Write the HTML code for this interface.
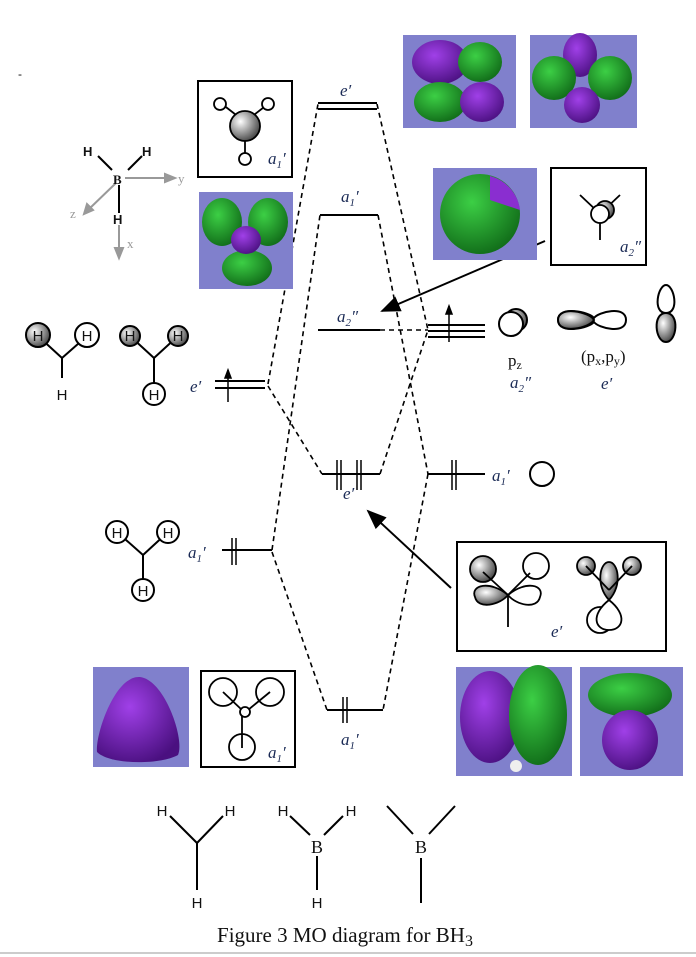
<!DOCTYPE html>
<html><head><meta charset="utf-8"><style>
html,body{margin:0;padding:0;background:#fff;}
svg{display:block;}
.it{font-family:"Liberation Serif",serif;font-style:italic;fill:#1a2a55;}
.sf{font-family:"Liberation Serif",serif;fill:#111;}
.ss{font-family:"Liberation Sans",sans-serif;fill:#111;}
</style></head><body>
<svg width="696" height="957" viewBox="0 0 696 957" xmlns="http://www.w3.org/2000/svg">
<defs>
<radialGradient id="sh" cx="0.35" cy="0.35" r="0.7"><stop offset="0" stop-color="#fff"/><stop offset="1" stop-color="#444"/></radialGradient>
<radialGradient id="gr" cx="0.4" cy="0.35" r="0.7"><stop offset="0" stop-color="#3ccf45"/><stop offset="1" stop-color="#106a18"/></radialGradient>
<radialGradient id="pu" cx="0.4" cy="0.35" r="0.7"><stop offset="0" stop-color="#a040e8"/><stop offset="1" stop-color="#4a1080"/></radialGradient>
<marker id="ah" markerWidth="10" markerHeight="8" refX="9" refY="4" orient="auto"><path d="M0,0 L10,4 L0,8 z" fill="#000"/></marker>
</defs>
<text x="18" y="78" class="ss" font-size="12">-</text>

<g stroke="#000" stroke-width="1.6" stroke-dasharray="5,4" fill="none">
<path d="M268,384 L318,104"/>
<path d="M268,386 L322,474"/>
<path d="M272,550 L320,215"/>
<path d="M272,552 L327,710"/>
<path d="M377,104 L428,330"/>
<path d="M378,215 L428,474"/>
<path d="M380,330 L428,330"/>
<path d="M380,474 L428,330"/>
<path d="M428,474 L383,710"/>
</g>
<g stroke="#000" stroke-width="2">
<line x1="318" y1="103" x2="377" y2="103"/><line x1="318" y1="109" x2="377" y2="109"/>
<line x1="320" y1="215" x2="378" y2="215"/>
<line x1="318" y1="330" x2="380" y2="330"/>
<line x1="322" y1="474" x2="380" y2="474"/>
<line x1="327" y1="710" x2="383" y2="710"/>
<line x1="215" y1="381" x2="265" y2="381"/><line x1="215" y1="388" x2="265" y2="388"/>
<line x1="222" y1="550" x2="272" y2="550"/>
<line x1="428" y1="325" x2="485" y2="325"/><line x1="428" y1="331" x2="485" y2="331"/><line x1="428" y1="337" x2="485" y2="337"/>
<line x1="428" y1="474" x2="485" y2="474"/>
</g>
<g stroke="#000" stroke-width="1.5" fill="#000">
<line x1="228" y1="370" x2="228" y2="402"/><path d="M228,370 l-3,8 h6z"/>
<line x1="232" y1="538" x2="232" y2="565"/><line x1="236" y1="538" x2="236" y2="565"/>
<line x1="449" y1="306" x2="449" y2="342"/><path d="M449,306 l-3,8 h6z"/>
<line x1="452" y1="460" x2="452" y2="490"/><line x1="456" y1="460" x2="456" y2="490"/>
<line x1="337" y1="460" x2="337" y2="490"/><line x1="341" y1="460" x2="341" y2="490"/>
<line x1="357" y1="460" x2="357" y2="490"/><line x1="361" y1="460" x2="361" y2="490"/>
<line x1="343" y1="697" x2="343" y2="723"/><line x1="347" y1="697" x2="347" y2="723"/>
</g>
<g class="it" font-size="17">
<text x="340" y="96">e′</text>
<text x="341" y="202">a<tspan font-size="11" dy="4">1</tspan><tspan dy="-4">′</tspan></text>
<text x="337" y="322">a<tspan font-size="11" dy="4">2</tspan><tspan dy="-4">″</tspan></text>
<text x="343" y="499">e′</text>
<text x="341" y="745">a<tspan font-size="11" dy="4">1</tspan><tspan dy="-4">′</tspan></text>
<text x="190" y="392">e′</text>
<text x="188" y="558">a<tspan font-size="11" dy="4">1</tspan><tspan dy="-4">′</tspan></text>
<text x="492" y="481">a<tspan font-size="11" dy="4">1</tspan><tspan dy="-4">′</tspan></text>
<text x="510" y="388">a<tspan font-size="11" dy="4">2</tspan><tspan dy="-4">″</tspan></text>
<text x="601" y="389">e′</text>
</g>
<text x="508" y="366" class="sf" font-size="17">p<tspan font-size="12" dy="3">z</tspan></text>
<text x="581" y="362" class="sf" font-size="17">(p<tspan font-size="12" dy="3">x</tspan><tspan dy="-3">,p</tspan><tspan font-size="12" dy="3">y</tspan><tspan dy="-3">)</tspan></text>

<line x1="545" y1="241" x2="382" y2="311" stroke="#000" stroke-width="2" marker-end="url(#ah)"/>
<line x1="451" y1="588" x2="368" y2="511" stroke="#000" stroke-width="2" marker-end="url(#ah)"/>

<circle cx="516" cy="320" r="11" fill="url(#sh)" stroke="#000" stroke-width="2"/>
<circle cx="511" cy="324" r="12" fill="#fff" stroke="#000" stroke-width="2"/>
<path d="M558,320 C558,305 590,312 594,318 C598,312 626,305 626,320 C626,335 598,328 594,322 C590,328 558,335 558,320z" fill="#fff" stroke="#000" stroke-width="2"/>
<path d="M558,320 C558,305 590,312 594,320 C590,328 558,335 558,320z" fill="url(#sh)" stroke="#000" stroke-width="2"/>
<path d="M666,313 C652,313 658,285 666,285 C674,285 680,313 666,313z" fill="#fff" stroke="#000" stroke-width="2"/>
<path d="M666,313 C652,313 655,342 666,342 C677,342 680,313 666,313z" fill="url(#sh)" stroke="#000" stroke-width="2"/>
<circle cx="542" cy="474" r="12" fill="#fff" stroke="#000" stroke-width="2"/>

<g fill="none" stroke="#000" stroke-width="2">
<rect x="198" y="81" width="94" height="96"/>
<rect x="551" y="168" width="95" height="97"/>
<rect x="457" y="542" width="209" height="109"/>
<rect x="201" y="671" width="94" height="96"/>
</g>
<g stroke="#000" stroke-width="1.8">
<line x1="222" y1="104" x2="240" y2="118"/><line x1="268" y1="104" x2="250" y2="118"/><line x1="245" y1="135" x2="245" y2="160"/>
<circle cx="220" cy="104" r="6" fill="#fff"/><circle cx="268" cy="104" r="6" fill="#fff"/><circle cx="245" cy="159" r="6" fill="#fff"/>
<circle cx="245" cy="126" r="15" fill="url(#sh)"/>
</g>
<text x="268" y="164" class="it" font-size="17">a<tspan font-size="11" dy="4">1</tspan><tspan dy="-4">′</tspan></text>
<g stroke="#000" stroke-width="1.8">
<line x1="580" y1="195" x2="598" y2="212"/><line x1="620" y1="195" x2="602" y2="212"/><line x1="600" y1="215" x2="600" y2="240"/>
<circle cx="605" cy="210" r="9" fill="url(#sh)"/><circle cx="600" cy="214" r="9" fill="#fff"/>
</g>
<text x="620" y="252" class="it" font-size="17">a<tspan font-size="11" dy="4">2</tspan><tspan dy="-4">″</tspan></text>
<g stroke="#000" stroke-width="1.8">
<circle cx="483" cy="569" r="13" fill="url(#sh)"/><circle cx="536" cy="566" r="13" fill="#fff"/>
<path d="M508,595 C490,580 470,585 475,597 C478,610 500,605 508,595z" fill="url(#sh)"/>
<path d="M508,595 C526,580 545,585 540,597 C537,610 516,605 508,595z" fill="#fff"/>
<line x1="483" y1="572" x2="508" y2="595"/><line x1="530" y1="573" x2="508" y2="595"/><line x1="508" y1="595" x2="508" y2="627"/>
<circle cx="600" cy="620" r="13" fill="#fff"/>
<path d="M609,600 C590,615 595,630 609,630 C623,630 628,615 609,600z" fill="#fff"/>
<path d="M609,600 C595,585 600,562 609,562 C618,562 623,585 609,600z" fill="url(#sh)"/>
<circle cx="586" cy="566" r="9" fill="url(#sh)"/><circle cx="632" cy="566" r="9" fill="url(#sh)"/>
<line x1="586" y1="566" x2="609" y2="590"/><line x1="632" y1="566" x2="609" y2="590"/>
</g>
<text x="551" y="637" class="it" font-size="17">e′</text>
<g stroke="#000" stroke-width="1.8" fill="none">
<circle cx="223" cy="692" r="14"/><circle cx="270" cy="692" r="14"/><circle cx="242" cy="747" r="13"/>
<line x1="223" y1="692" x2="242" y2="710"/><line x1="270" y1="692" x2="248" y2="710"/><line x1="242" y1="716" x2="242" y2="748"/>
<circle cx="245" cy="712" r="5" fill="#fff"/>
</g>
<text x="268" y="758" class="it" font-size="17">a<tspan font-size="11" dy="4">1</tspan><tspan dy="-4">′</tspan></text>

<g stroke="#000" stroke-width="2"><line x1="98" y1="156" x2="112" y2="170"/><line x1="142" y1="156" x2="128" y2="170"/><line x1="119" y1="185" x2="119" y2="213"/></g>
<g stroke="#999" stroke-width="2" fill="#999"><line x1="125" y1="178" x2="168" y2="178"/><path d="M175,178 l-10,-4 v8z"/><line x1="116" y1="183" x2="88" y2="210"/><path d="M84,214 l3,-10 l6,6z"/><line x1="119" y1="225" x2="119" y2="250"/><path d="M119,258 l-4,-10 h8z"/></g>
<text x="83" y="156" class="ss" font-size="13" font-weight="bold">H</text>
<text x="142" y="156" class="ss" font-size="13" font-weight="bold">H</text>
<text x="113" y="184" class="sf" font-size="13" font-weight="bold">B</text>
<text x="113" y="224" class="ss" font-size="13" font-weight="bold">H</text>
<text x="178" y="183" class="sf" font-size="13" style="fill:#999">y</text>
<text x="70" y="218" class="sf" font-size="13" style="fill:#999">z</text>
<text x="127" y="248" class="sf" font-size="13" style="fill:#999">x</text>

<g stroke="#000" stroke-width="2">
<line x1="38" y1="336" x2="62" y2="358"/><line x1="87" y1="336" x2="62" y2="358"/><line x1="62" y1="358" x2="62" y2="378"/>
<circle cx="38" cy="335" r="12" fill="url(#sh)"/><circle cx="87" cy="335" r="12" fill="#fff"/>
<line x1="130" y1="336" x2="154" y2="358"/><line x1="178" y1="336" x2="154" y2="358"/><line x1="154" y1="358" x2="154" y2="386"/>
<circle cx="130" cy="336" r="10" fill="url(#sh)"/><circle cx="178" cy="336" r="10" fill="url(#sh)"/><circle cx="154" cy="394" r="11" fill="#fff"/>
<line x1="117" y1="532" x2="143" y2="555"/><line x1="168" y1="532" x2="143" y2="555"/><line x1="143" y1="555" x2="143" y2="583"/>
<circle cx="117" cy="532" r="11" fill="#fff"/><circle cx="168" cy="532" r="11" fill="#fff"/><circle cx="143" cy="590" r="11" fill="#fff"/>
</g>
<g class="ss" font-size="15" text-anchor="middle">
<text x="38" y="341">H</text><text x="87" y="341">H</text><text x="62" y="400">H</text>
<text x="130" y="341">H</text><text x="178" y="341">H</text><text x="154" y="400">H</text>
<text x="117" y="538">H</text><text x="168" y="538">H</text><text x="143" y="596">H</text>
</g>

<g>
<rect x="403" y="35" width="113" height="93" fill="#8080cc"/>
<ellipse cx="440" cy="62" rx="28" ry="22" fill="url(#pu)"/><ellipse cx="480" cy="62" rx="22" ry="20" fill="url(#gr)"/>
<ellipse cx="440" cy="102" rx="26" ry="20" fill="url(#gr)"/><ellipse cx="482" cy="102" rx="22" ry="20" fill="url(#pu)"/>
<rect x="530" y="35" width="107" height="93" fill="#8080cc"/>
<ellipse cx="580" cy="55" rx="17" ry="22" fill="url(#pu)"/><ellipse cx="554" cy="78" rx="22" ry="22" fill="url(#gr)"/><ellipse cx="610" cy="78" rx="22" ry="22" fill="url(#gr)"/><ellipse cx="582" cy="105" rx="18" ry="18" fill="url(#pu)"/>
<rect x="199" y="192" width="94" height="97" fill="#8080cc"/>
<ellipse cx="222" cy="222" rx="20" ry="24" fill="url(#gr)"/><ellipse cx="268" cy="222" rx="20" ry="24" fill="url(#gr)"/><ellipse cx="247" cy="268" rx="25" ry="18" fill="url(#gr)"/><ellipse cx="246" cy="240" rx="15" ry="14" fill="url(#pu)"/>
<rect x="433" y="168" width="104" height="92" fill="#8080cc"/>
<circle cx="480" cy="214" r="40" fill="url(#gr)"/><path d="M490,176 A40,40 0 0 1 520,210 L490,200z" fill="#8a2ed0"/>
<rect x="93" y="667" width="96" height="100" fill="#8080cc"/>
<path d="M140,677 C165,680 185,740 178,755 C160,765 110,765 97,752 C95,735 115,675 140,677z" fill="url(#pu)"/>
<rect x="456" y="667" width="116" height="109" fill="#8080cc"/>
<ellipse cx="490" cy="717" rx="30" ry="46" fill="url(#pu)"/><ellipse cx="538" cy="715" rx="29" ry="50" fill="url(#gr)"/><ellipse cx="516" cy="766" rx="6" ry="6" fill="#eee"/>
<rect x="580" y="667" width="103" height="109" fill="#8080cc"/>
<ellipse cx="630" cy="695" rx="42" ry="22" fill="url(#gr)"/><ellipse cx="630" cy="740" rx="28" ry="30" fill="url(#pu)"/>
</g>

<!-- bottom structures -->
<g stroke="#000" stroke-width="2">
<line x1="170" y1="816" x2="197" y2="843"/><line x1="223" y1="816" x2="197" y2="843"/><line x1="197" y1="843" x2="197" y2="890"/>
<line x1="290" y1="816" x2="310" y2="835"/><line x1="343" y1="816" x2="324" y2="835"/><line x1="317" y1="856" x2="317" y2="890"/>
<line x1="387" y1="806" x2="413" y2="834"/><line x1="455" y1="806" x2="429" y2="834"/><line x1="421" y1="858" x2="421" y2="903"/>
</g>
<g class="ss" font-size="15" text-anchor="middle">
<text x="162" y="816">H</text><text x="230" y="816">H</text><text x="197" y="908">H</text>
<text x="283" y="816">H</text><text x="351" y="816">H</text><text x="317" y="908">H</text>
</g>
<text x="317" y="853" class="sf" font-size="18" text-anchor="middle">B</text>
<text x="421" y="853" class="sf" font-size="18" text-anchor="middle">B</text>
<text x="345" y="942" class="sf" font-size="21" text-anchor="middle">Figure 3 MO diagram for BH<tspan font-size="16" dy="4">3</tspan></text>
<line x1="0" y1="953" x2="696" y2="953" stroke="#ccc" stroke-width="2"/>
</svg>
</body></html>
